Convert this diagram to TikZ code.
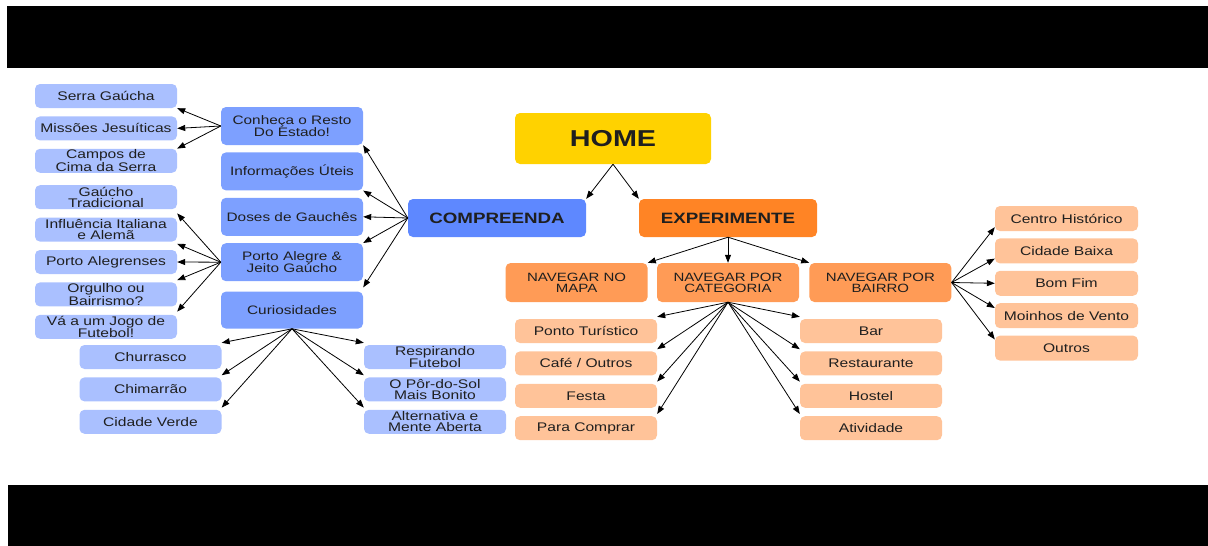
\documentclass[tikz,border=0pt]{standalone}
\usepackage{fontspec}
\setmainfont{Liberation Sans}[FakeStretch=1.25]
\usetikzlibrary{arrows.meta}
\usetikzlibrary{positioning}

\definecolor{homegold}{HTML}{FFD200}
\definecolor{compblue}{HTML}{5E88FF}
\definecolor{midblue}{HTML}{7DA0FF}
\definecolor{leafblue}{HTML}{AAC0FF}
\definecolor{expdark}{HTML}{FF8425}
\definecolor{navorange}{HTML}{FF9B56}
\definecolor{leaforange}{HTML}{FFC399}

\begin{document}
\begin{tikzpicture}[
  x=1pt, y=-1pt, node distance=8pt,
  arr/.style={-{Triangle[length=8pt,width=6pt]}, line width=0.8pt},
  box/.style={rectangle,rounded corners=5pt,inner sep=0pt,align=center,text=black!88},
  leafb/.style={box,fill=leafblue,minimum width=142pt,minimum height=24pt,
    font=\fontsize{12.5}{11}\selectfont},
  midb/.style={box,fill=midblue,minimum width=142pt,minimum height=38pt,
    font=\fontsize{12.3}{11.5}\selectfont},
  leafo/.style={box,fill=leaforange,minimum width=142pt,minimum height=24pt,
    font=\fontsize{12.5}{11}\selectfont},
  navb/.style={box,fill=navorange,minimum width=142pt,minimum height=39pt,
    font=\fontsize{12}{11}\selectfont},
  topb/.style={box,minimum width=178pt,minimum height=38pt,
    font=\fontsize{15}{15}\bfseries}
]
\useasboundingbox (0,0) rectangle (1208,546);

% --- Black bars ---
\fill[black] (7,6) rectangle (1208,68);
\fill[black] (8,485) rectangle (1208,546);

% --- Top level ---
\node[box,fill=homegold,minimum width=196pt,minimum height=51pt,
  font=\fontsize{23}{23}\bfseries] (home) at (613,138.5) {HOME};
\node[topb,fill=compblue] (comp) at (497,218) {COMPREENDA};
\node[topb,fill=expdark]  (exp)  at (728,218) {EXPERIMENTE};

% --- Compreenda branch ---
\node[midb] (conheca) at (292,126) {Conheça o Resto\\Do Estado!};
\node[midb,below=7pt of conheca] (info)  {Informações Úteis};
\node[midb,below=7pt of info]    (doses) {Doses de Gauchês};
\node[midb,below=7pt of doses]   (poaj)  {Porto Alegre \&\\Jeito Gaúcho};
\node[midb,below=10pt of poaj,minimum height=37pt] (curios) {Curiosidades};

\node[leafb] (serra) at (106,96) {Serra Gaúcha};
\node[leafb,below=of serra]   (missoes) {Missões Jesuíticas};
\node[leafb,below=of missoes] (campos)  {Campos de\\Cima da Serra};
\node[leafb,below=12pt of campos] (gaucho) {Gaúcho\\Tradicional};
\node[leafb,below=of gaucho]  (italia)  {Influência Italiana\\e Alemã};
\node[leafb,below=of italia]  (poa)     {Porto Alegrenses};
\node[leafb,below=of poa]     (orgulho) {Orgulho ou\\Bairrismo?};
\node[leafb,below=of orgulho] (jogo)    {Vá a um Jogo de\\Futebol!};

\node[leafb] (churrasco) at (150.5,357) {Churrasco};
\node[leafb,below=of churrasco] (chimarrao) {Chimarrão};
\node[leafb,below=of chimarrao] (verde)     {Cidade Verde};
\node[leafb] (respira) at (435,357) {Respirando\\Futebol};
\node[leafb,below=of respira] (porsol) {O Pôr-do-Sol\\Mais Bonito};
\node[leafb,below=of porsol]  (altern) {Alternativa e\\Mente Aberta};

% --- Experimente branch ---
\node[navb] (navcat) at (728,282.5) {NAVEGAR POR\\CATEGORIA};
\node[navb,left=9pt of navcat]  (navmapa)   {NAVEGAR NO\\MAPA};
\node[navb,right=10pt of navcat] (navbairro) {NAVEGAR POR\\BAIRRO};

\node[leafo] (ponto) at (586,331) {Ponto Turístico};
\node[leafo,below=of ponto] (cafe)    {Café / Outros};
\node[leafo,below=of cafe]  (festa)   {Festa};
\node[leafo,below=of festa] (comprar) {Para Comprar};
\node[leafo] (bar) at (871,331) {Bar};
\node[leafo,below=of bar]   (restaur) {Restaurante};
\node[leafo,below=of restaur] (hostel)  {Hostel};
\node[leafo,below=of hostel]  (ativ)    {Atividade};

\node[leafo,minimum width=143pt,minimum height=25pt] (centro) at (1066.5,218.5) {Centro Histórico};
\node[leafo,minimum width=143pt,minimum height=25pt,below=7pt of centro] (baixa)   {Cidade Baixa};
\node[leafo,minimum width=143pt,minimum height=25pt,below=7pt of baixa]  (bomfim)  {Bom Fim};
\node[leafo,minimum width=143pt,minimum height=25pt,below=7pt of bomfim] (moinhos) {Moinhos de Vento};
\node[leafo,minimum width=143pt,minimum height=25pt,below=7pt of moinhos] (outros) {Outros};

% --- Connectors ---
\draw[arr] (home.south) -- (comp.north east);
\draw[arr] (home.south) -- (exp.north west);

\draw[arr] (comp.west) -- (conheca.south east);
\draw[arr] (comp.west) -- (info.south east);
\draw[arr] (comp.west) -- (doses.east);
\draw[arr] (comp.west) -- (poaj.north east);
\draw[arr] (comp.west) -- ([yshift=4pt]curios.north east);

\draw[arr] (conheca.west) -- (serra.south east);
\draw[arr] (conheca.west) -- (missoes.east);
\draw[arr] (conheca.west) -- (campos.north east);

\draw[arr] (poaj.west) -- ([yshift=-4pt]gaucho.south east);
\draw[arr] (poaj.west) -- ([yshift=-2pt]italia.south east);
\draw[arr] (poaj.west) -- (poa.east);
\draw[arr] (poaj.west) -- ([yshift=2pt]orgulho.north east);
\draw[arr] (poaj.west) -- ([yshift=3pt]jogo.north east);

\foreach \n in {churrasco,chimarrao,verde}
  \draw[arr] (curios.south) -- ([yshift=2pt]\n.north east);
\foreach \n in {respira,porsol,altern}
  \draw[arr] (curios.south) -- ([yshift=2pt]\n.north west);

\draw[arr] (exp.south) -- (navmapa.north east);
\draw[arr] (exp.south) -- (navcat.north);
\draw[arr] (exp.south) -- (navbairro.north west);

\foreach \n in {ponto,cafe,festa,comprar}
  \draw[arr] (navcat.south) -- ([yshift=2pt]\n.north east);
\foreach \n in {bar,restaur,hostel,ativ}
  \draw[arr] (navcat.south) -- ([yshift=2pt]\n.north west);

\draw[arr] (navbairro.east) -- ([yshift=4pt]centro.south west);
\draw[arr] (navbairro.east) -- ([yshift=5pt]baixa.south west);
\draw[arr] (navbairro.east) -- (bomfim.west);
\draw[arr] (navbairro.east) -- ([yshift=-5pt]moinhos.north west);
\draw[arr] (navbairro.east) -- ([yshift=-4pt]outros.north west);

\end{tikzpicture}
\end{document}
